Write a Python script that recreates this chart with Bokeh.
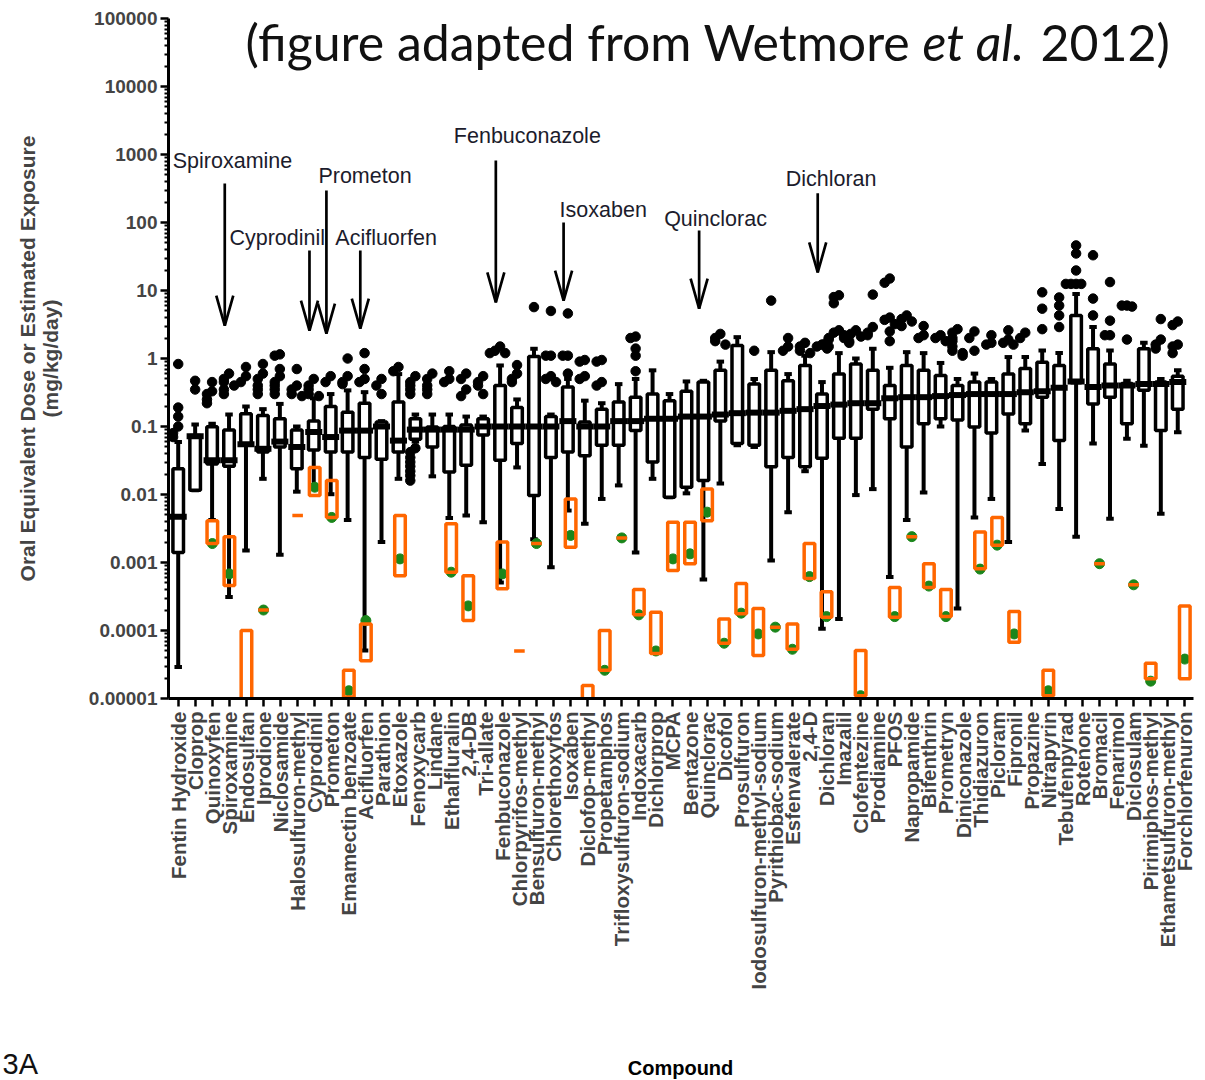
import math
from bokeh.plotting import figure
from bokeh.models import ColumnDataSource, FixedTicker, CustomJSTickFormatter, Label, Range1d
from bokeh.embed import file_html
from bokeh.resources import INLINE

# ---------------- data ----------------
names = ["Fentin Hydroxide", "Cloprop", "Quinoxyfen", "Spiroxamine", "Endosulfan", "Iprodione",
         "Niclosamide", "Halosulfuron-methyl", "Cyprodinil", "Prometon", "Emamectin benzoate",
         "Acifluorfen", "Parathion", "Etoxazole", "Fenoxycarb", "Lindane", "Ethalfluralin", "2,4-DB",
         "Tri-allate", "Fenbuconazole", "Chlorpyrifos-methyl", "Bensulfuron-methyl", "Chlorethoxyfos",
         "Isoxaben", "Diclofop-methyl", "Propetamphos", "Trifloxysulfuron-sodium", "Indoxacarb",
         "Dichlorprop", "MCPA", "Bentazone", "Quinclorac", "Dicofol", "Prosulfuron",
         "Iodosulfuron-methyl-sodium", "Pyrithiobac-sodium", "Esfenvalerate", "2,4-D", "Dichloran",
         "Imazalil", "Clofentezine", "Prodiamine", "PFOS", "Napropamide", "Bifenthrin", "Prometryn",
         "Diniconazole", "Thidiazuron", "Picloram", "Fipronil", "Propazine", "Nitrapyrin",
         "Tebufenpyrad", "Rotenone", "Bromacil", "Fenarimol", "Diclosulam", "Pirimiphos-methyl",
         "Ethametsulfuron-methyl", "Forchlorfenuron"]

whisker_low = [2.9e-5, 0.0115, 0.0042, 0.00031, 0.0015, 0.017, 0.0013, 0.011, 0.0136, 0.0101,
               0.0042, 5.1e-5, 0.002, 0.017, 0.06, 0.0185, 0.0045, 0.0049, 0.0039, 0.00051,
               0.025, 0.0022, 0.00085, 0.0058, 0.0037, 0.0086, 0.0136, 0.0014, 0.017, 0.0091,
               0.0104, 0.00056, 0.0145, 0.053, 0.05, 0.00107, 0.0055, 0.022, 0.000106, 0.000148,
               0.0098, 0.012, 0.00061, 0.0042, 0.0107, 0.1, 0.00021, 0.0046, 0.0086, 0.002,
               0.087, 0.028, 0.0061, 0.0024, 0.056, 0.0044, 0.066, 0.052, 0.0052, 0.082]
q1 = [0.0014, 0.0115, 0.028, 0.026, 0.053, 0.042, 0.05, 0.024, 0.045, 0.042,
      0.042, 0.035, 0.033, 0.042, 0.065, 0.05, 0.0215, 0.027, 0.075, 0.032,
      0.056, 0.0097, 0.035, 0.042, 0.037, 0.053, 0.053, 0.087, 0.03, 0.0091,
      0.0128, 0.016, 0.12, 0.056, 0.053, 0.0256, 0.035, 0.0256, 0.034, 0.067,
      0.067, 0.18, 0.13, 0.05, 0.11, 0.13, 0.125, 0.098, 0.08, 0.153,
      0.11, 0.27, 0.062, 0.44, 0.215, 0.27, 0.11, 0.34, 0.087, 0.18]
median = [0.0047, 0.072, 0.032, 0.032, 0.055, 0.047, 0.06, 0.05, 0.083, 0.07,
          0.087, 0.087, 0.1, 0.062, 0.09, 0.09, 0.09, 0.09, 0.1, 0.1,
          0.1, 0.1, 0.1, 0.12, 0.1, 0.1, 0.12, 0.12, 0.13, 0.13,
          0.14, 0.14, 0.15, 0.157, 0.16, 0.16, 0.17, 0.18, 0.2, 0.21,
          0.22, 0.22, 0.26, 0.27, 0.27, 0.28, 0.29, 0.3, 0.3, 0.3,
          0.32, 0.33, 0.37, 0.46, 0.38, 0.4, 0.4, 0.42, 0.42, 0.45]
q3 = [0.024, 0.074, 0.099, 0.089, 0.154, 0.145, 0.13, 0.089, 0.12, 0.197,
      0.162, 0.22, 0.116, 0.23, 0.13, 0.098, 0.1, 0.105, 0.13, 0.4,
      0.19, 1.07, 0.14, 0.38, 0.116, 0.18, 0.23, 0.27, 0.3, 0.24,
      0.33, 0.45, 0.67, 1.55, 0.42, 0.67, 0.47, 0.79, 0.3, 0.59,
      0.83, 0.67, 0.4, 0.79, 0.67, 0.56, 0.4, 0.45, 0.45, 0.59,
      0.71, 0.88, 0.79, 4.3, 1.39, 0.83, 0.43, 1.39, 0.45, 0.55]
whisker_high = [0.059, 0.107, 0.11, 0.15, 0.197, 0.18, 0.215, 0.1, 0.26, 0.3,
                0.34, 0.32, 0.12, 0.59, 0.15, 0.15, 0.15, 0.14, 0.14, 0.79,
                0.25, 1.39, 0.15, 0.5, 0.24, 0.22, 0.42, 0.5, 0.67, 0.3,
                0.46, 0.47, 0.9, 2.06, 0.5, 1.24, 0.59, 1.1, 0.45, 1.2,
                1.0, 1.39, 0.73, 1.24, 1.2, 0.86, 0.5, 0.6, 0.5, 1.05,
                1.05, 1.31, 1.2, 8.9, 2.9, 1.31, 0.47, 1.7, 0.5, 0.67]
outliers = [
    [0.83, 0.19, 0.14, 0.1, 0.08, 0.07], [0.47, 0.35], [0.45, 0.33, 0.3, 0.25, 0.22],
    [0.6, 0.5, 0.45, 0.4, 0.35, 0.3], [0.75, 0.55, 0.45], [0.83, 0.6, 0.5, 0.4, 0.35, 0.3],
    [1.15, 1.1, 0.7, 0.55, 0.45, 0.4, 0.35, 0.3], [0.7, 0.4, 0.35, 0.3, 0.28],
    [0.5, 0.4, 0.35, 0.3, 0.28], [0.55, 0.45], [1.0, 0.55, 0.45, 0.42], [1.2, 0.7, 0.5, 0.45],
    [0.5, 0.4, 0.3], [0.75, 0.65],
    [0.55, 0.45, 0.4, 0.35, 0.3, 0.048, 0.042, 0.035, 0.03, 0.026, 0.022, 0.019, 0.016],
    [0.6, 0.5, 0.4, 0.35, 0.3], [0.65, 0.5, 0.45], [0.6, 0.5, 0.35, 0.28], [0.55, 0.45, 0.4, 0.3],
    [1.5, 1.3, 1.2, 1.2], [0.8, 0.6, 0.5, 0.45], [5.7], [5.0, 1.1, 1.1, 0.55, 0.5, 0.45],
    [4.6, 1.1, 1.1, 0.6], [0.95, 0.9, 0.55, 0.5], [0.95, 0.9, 0.45, 0.4], [],
    [2.1, 2.0, 1.4, 1.1, 0.65], [], [], [], [], [2.3, 2.0, 1.8, 1.6], [], [1.3], [7.1],
    [2.0, 1.5, 1.3], [1.7, 1.5, 1.3, 1.2], [1.6, 1.5, 1.4],
    [8.5, 8.0, 6.5, 2.6, 2.4, 2.2, 2.0, 2.0, 1.9, 1.8, 1.7, 1.6, 1.5], [2.6, 2.3, 2.1],
    [8.7, 2.9, 2.4, 2.2], [15, 13, 4.0, 3.7, 3.2, 2.5, 1.8], [4.3, 3.8, 3.5, 3.0], [3.0, 2.2, 2.0],
    [2.2, 2.0, 1.8], [2.7, 2.4, 2.0, 1.8, 1.5, 1.3, 1.2, 1.1], [2.5, 2.0, 1.3], [2.2, 1.7, 1.6],
    [2.6, 1.9, 1.7, 1.6], [2.4, 2.0], [9.4, 5.4, 2.7], [7.9, 6.0, 4.3, 2.9],
    [46, 35, 19.7, 12.5, 12.5, 12.5, 12.5], [33, 7.6, 4.3], [13.3, 3.6, 2.2, 2.2],
    [6.0, 6.0, 5.8, 1.9], [], [3.8, 1.9, 1.6, 1.4], [3.5, 3.1, 1.6, 1.5, 1.2]]

# estimated exposure range (orange) and its median (green); None = not shown
exposure_low = [None, None, 0.0019, 0.00046, 5e-6, 0.0002, None, 0.0049, 0.0097, 0.0046,
                1.05e-5, 3.6e-5, None, 0.00064, None, None, 0.00072, 0.00014, None, 0.00041,
                5e-5, 0.0019, None, 0.00168, 9e-6, 2.6e-5, 0.0023, 0.00017, 4.6e-5, 0.00076,
                0.00096, 0.0041, 6.5e-5, 0.000176, 4.3e-5, 0.000112, 5.3e-5, 0.00058, 0.000157, None,
                1.1e-5, None, 0.000157, 0.0024, 0.00043, 0.00016, None, 0.00081, 0.0018, 6.7e-5,
                None, 1.1e-5, None, None, 0.00096, None, 0.00047, 1.95e-5, None, 1.95e-5]
exposure_high = [None, None, 0.0041, 0.0024, 0.0001, 0.0002, None, 0.0049, 0.025, 0.0161,
                 2.6e-5, 0.000125, None, 0.0049, None, None, 0.0037, 0.00064, None, 0.002,
                 5e-5, 0.0019, None, 0.0086, 1.55e-5, 0.0001, 0.0023, 0.0004, 0.000186, 0.0039,
                 0.0039, 0.012, 0.000148, 0.00049, 0.00021, 0.000112, 0.000125, 0.0019, 0.00037, None,
                 5.1e-5, None, 0.00043, 0.0024, 0.00096, 0.0004, None, 0.0028, 0.0046, 0.00019,
                 None, 2.6e-5, None, None, 0.00096, None, 0.00047, 3.3e-5, None, 0.00023]
exposure_median = [None, None, 0.0019, 0.00068, None, 0.0002, None, None, 0.0128, 0.0046,
                   1.3e-5, 0.00014, None, 0.00113, None, None, 0.00072, 0.00023, None, 0.00068,
                   None, 0.0019, None, 0.0025, None, 2.6e-5, 0.0023, 0.00017, 5e-5, 0.00113,
                   0.00134, 0.0055, 6.5e-5, 0.00018, 8.9e-5, 0.000112, 5.3e-5, 0.00062, 0.00016, None,
                   1.1e-5, None, 0.00016, 0.0024, 0.00045, 0.00016, None, 0.0008, 0.0018, 8.9e-5,
                   None, 1.3e-5, None, None, 0.00096, None, 0.00047, 1.8e-5, None, 3.8e-5]

# arrow call-outs
callout_names = ["Spiroxamine", "Cyprodinil", "Prometon", "Acifluorfen", "Fenbuconazole",
                 "Isoxaben", "Quinclorac", "Dichloran"]
callout_arrow_top = [375, 38.7, 295, 38.7, 817, 100, 76, 270]
callout_arrow_tip = [3.05, 2.58, 2.33, 2.76, 6.7, 7.1, 5.4, 18.4]
callout_text_y = [816, 60, 491, 60, 1841, 155, 111, 443]
callout_text_dx = [-52, -80, -8, -25, -42, -4, -35, -32]   # px, text start relative to arrow

# ---------------- layout helpers ----------------
N = len(names)
PX_PER_UNIT = 17.06
BOX_STEP = 0.993           # the box series drifts slightly left of the tick marks
xt = [i + 1 for i in range(N)]
xb = [1 + i * BOX_STEP for i in range(N)]


def px2x(px):
    return 1 + (px - 177.7) / PX_PER_UNIT


def py2y(py):
    return 10 ** (5 - (py - 18) / 68.0)


p = figure(width=1200, height=1080, x_range=Range1d(0.431, 60.51), y_range=Range1d(1e-5, 1e5),
           y_axis_type="log", output_backend="svg", toolbar_location=None,
           min_border_left=168, min_border_right=7, min_border_top=18, min_border_bottom=382)
p.grid.visible = False
p.outline_line_color = None
p.background_fill_color = "white"

BW = 0.31
box_src = ColumnDataSource(dict(
    x=xb, lo=whisker_low, q1=q1, med=median, q3=q3, hi=whisker_high,
    l=[v - BW for v in xb], r=[v + BW for v in xb],
    cl=[v - 0.22 for v in xb], cr=[v + 0.22 for v in xb],
    ml=[v - 0.5 for v in xb], mr=[v + 0.5 for v in xb]))

p.segment(x0="x", y0="lo", x1="x", y1="hi", source=box_src, line_color="black", line_width=4)
p.segment(x0="cl", y0="lo", x1="cr", y1="lo", source=box_src, line_color="black", line_width=4)
p.segment(x0="cl", y0="hi", x1="cr", y1="hi", source=box_src, line_color="black", line_width=4)
p.quad(left="l", right="r", bottom="q1", top="q3", source=box_src, fill_color="white",
       line_color="black", line_width=3.5)
p.segment(x0="ml", y0="med", x1="mr", y1="med", source=box_src, line_color="black", line_width=6)

# outliers, spread sideways when they overlap
ox, oy = [], []
for i, vals in enumerate(outliers):
    placed = []
    for v in vals:
        k = sum(1 for w in placed if abs(math.log10(v) - math.log10(w)) < 0.1)
        shift = [0, -1, 1, -2, 2, -3, 3][min(k, 6)] * 0.3
        ox.append(xb[i] + shift)
        oy.append(v)
        placed.append(v)
p.scatter(ox, oy, size=9.5, color="black")

# exposure: green medians and orange ranges
gx = [xt[i] for i in range(N) if exposure_median[i] is not None]
gy = [v for v in exposure_median if v is not None]
p.scatter(gx, gy, size=10, color="#1b861b")
idx = [i for i in range(N) if exposure_low[i] is not None]
p.quad(left=[xt[i] - BW for i in idx], right=[xt[i] + BW for i in idx],
       bottom=[exposure_low[i] for i in idx], top=[exposure_high[i] for i in idx],
       fill_color=None, line_color="#ff6600", line_width=3.5)

# arrows
HEAD_W = 8.5 / PX_PER_UNIT
HEAD_L = 10 ** (30 / 68.0)
axs, ays = [], []
for nm, top, tip, ty, dx in zip(callout_names, callout_arrow_top, callout_arrow_tip,
                                callout_text_y, callout_text_dx):
    x = xb[names.index(nm)] - 0.25
    axs += [[x, x], [x - HEAD_W, x, x + HEAD_W]]
    ays += [[top, tip], [tip * HEAD_L, tip, tip * HEAD_L]]
    p.add_layout(Label(x=x, y=ty, x_offset=dx, text=nm, text_font="Liberation Sans",
                       text_font_size="21.5px", text_color="#1c1c2c",
                       text_align="left", text_baseline="middle"))
p.multi_line(axs, ays, line_color="black", line_width=2.7)

# title pieces
ty = py2y(41)
for txt, px, style in [("(figure adapted from Wetmore", 245, "normal"),
                       ("et al.", 922, "italic"), ("2012)", 1040, "normal")]:
    p.add_layout(Label(x=px2x(px), y=ty, text=txt, text_font="Lato", text_font_size="50px",
                       text_font_style=style, text_color="#111111",
                       text_align="left", text_baseline="middle"))

# texts outside the frame live in the bottom panel (not clipped to the frame)
p.add_layout(Label(x=px2x(680), y=py2y(1067), text="Compound", text_font="Liberation Sans",
                   text_font_size="20px", text_font_style="bold", text_color="black",
                   text_align="center", text_baseline="middle"), "below")
p.add_layout(Label(x=px2x(2), y=py2y(1063), text="3A", text_font="Liberation Sans",
                   text_font_size="29px", text_color="#111111", text_align="left",
                   text_baseline="middle"), "below")

# axes
p.yaxis.ticker = FixedTicker(ticks=[10.0 ** e for e in range(-5, 6)],
                             minor_ticks=[m * 10.0 ** e for e in range(-5, 5) for m in range(2, 10)])
p.yaxis.formatter = CustomJSTickFormatter(code="""
const e = Math.round(Math.log10(tick));
if (e >= 0) { return String(Math.round(Math.pow(10, e))); }
return "0." + "0".repeat(-e - 1) + "1";
""")
p.yaxis.axis_label = "Oral Equivalent Dose or Estimated Exposure\n(mg/kg/day)"
p.yaxis.axis_label_text_font = "Liberation Sans"
p.yaxis.axis_label_text_font_size = "21px"
p.yaxis.axis_label_text_font_style = "bold"
p.yaxis.axis_label_text_line_height = 1.0
p.yaxis.axis_label_standoff = 24
p.yaxis.major_label_text_font = "Liberation Sans"
p.yaxis.major_label_text_font_size = "19px"
p.yaxis.major_label_text_font_style = "bold"
p.yaxis.major_label_standoff = 3
p.yaxis.major_tick_out = 8
p.yaxis.major_tick_in = 0
p.yaxis.minor_tick_out = 4
p.yaxis.minor_tick_in = 0
p.yaxis.major_tick_line_width = 2.5
p.yaxis.minor_tick_line_width = 2
p.yaxis.axis_line_width = 3

p.xaxis.ticker = FixedTicker(ticks=xt)
p.xaxis.major_label_overrides = {x: n for x, n in zip(xt, names)}
p.xaxis.major_label_orientation = math.pi / 2
p.xaxis.major_label_text_font = "Liberation Sans"
p.xaxis.major_label_text_font_size = "20.5px"
p.xaxis.major_label_text_font_style = "bold"
p.xaxis.major_label_standoff = 5
p.xaxis.major_tick_out = 8
p.xaxis.major_tick_in = 0
p.xaxis.major_tick_line_width = 2.5
p.xaxis.minor_tick_line_color = None
p.xaxis.axis_line_width = 3

open("out.html", "w").write(file_html(p, INLINE))
